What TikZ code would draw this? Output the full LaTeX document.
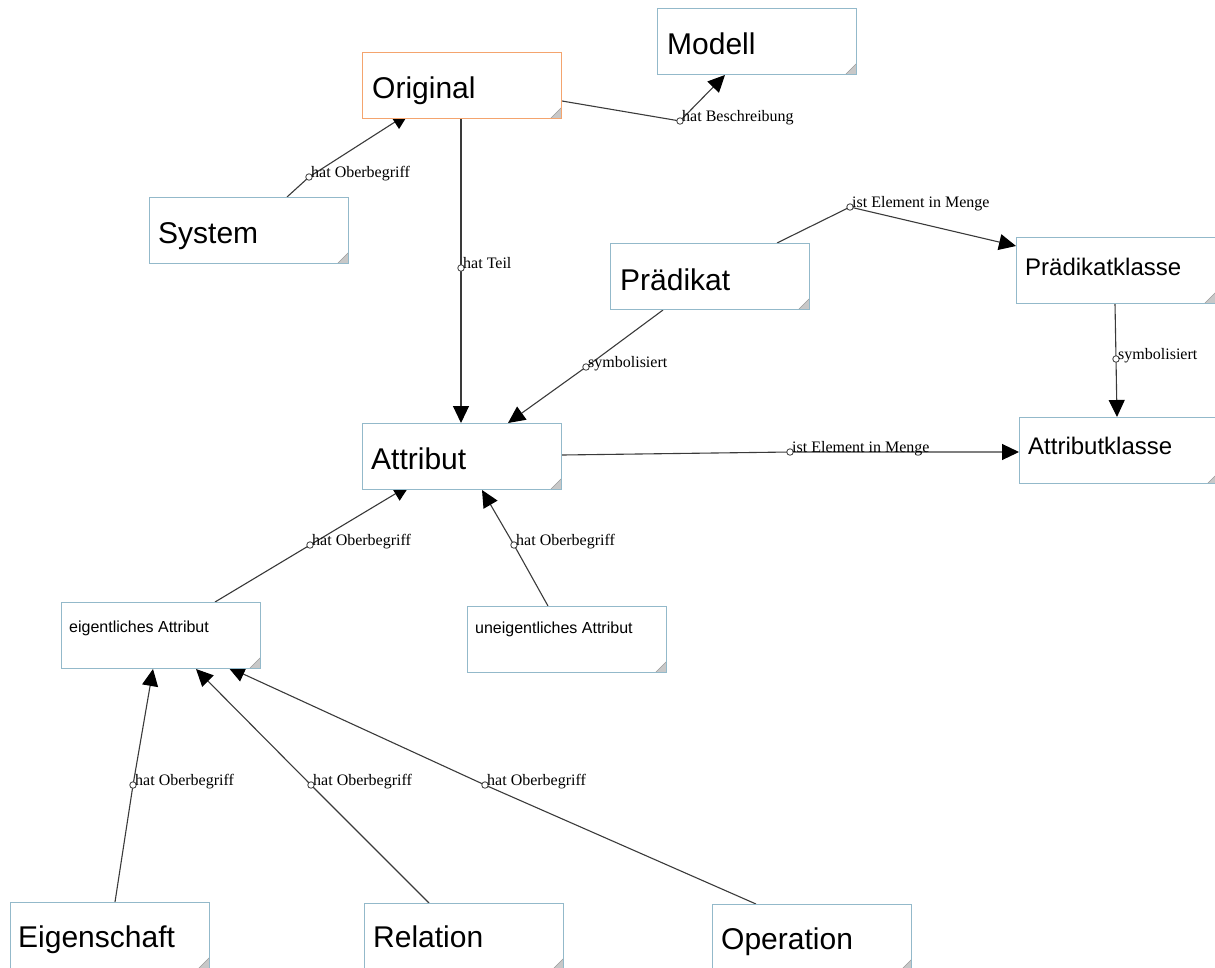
\documentclass[tikz,border=0pt]{standalone}
\usepackage{fontspec}
\setmainfont{Liberation Serif}
\newfontfamily\boxfont{Liberation Sans}
\usetikzlibrary{arrows.meta}
\pgfdeclarelayer{edges}
\pgfsetlayers{edges,main}

\definecolor{boxline}{HTML}{93B9CA}
\definecolor{origline}{HTML}{F4A46E}
\definecolor{edgeline}{HTML}{3A3A3A}
\definecolor{cornerfill}{HTML}{C8C8C8}
\definecolor{cornerline}{HTML}{9A9A9A}

\tikzset{
  concept/.style={draw=boxline, fill=white, line width=1pt, rectangle,
    minimum width=199pt, minimum height=66pt, inner sep=0pt, anchor=north west,
    path picture={
      \filldraw[fill=cornerfill, draw=cornerline, line width=0.6pt]
        (path picture bounding box.south east) -- ++(-11pt,0pt) -- ++(11pt,11pt) -- cycle;
    }},
  original/.style={concept, draw=origline},
  bigtext/.style={anchor=base west, inner sep=0pt, font=\boxfont\fontsize{30}{36}\selectfont},
  midtext/.style={anchor=base west, inner sep=0pt, font=\boxfont\fontsize{24}{29}\selectfont},
  smalltext/.style={anchor=base west, inner sep=0pt, font=\boxfont\fontsize{16}{19}\selectfont},
  dot/.style={circle, draw=edgeline, fill=white, line width=0.8pt, minimum size=6.5pt, inner sep=0pt},
  rel/.style={anchor=base west, inner sep=0pt, font=\fontsize{16}{19}\selectfont},
  edge/.style={draw=edgeline, line width=1.1pt, -{Triangle[length=17pt, width=16pt, color=black]}},
}

\begin{document}
\begin{tikzpicture}[x=1pt, y=-1pt]
\useasboundingbox (0,0) rectangle (1215,967);
\clip (0,0) rectangle (1215,967);

% concept boxes
\node[original] (orig)    at (362,52)   {};
\node[concept]  (modell)  at (657,8)    {};
\node[concept]  (sys)     at (149,197)  {};
\node[concept]  (praed)   at (610,243)  {};
\node[concept]  (praedkl) at (1016,237) {};
\node[concept]  (attr)    at (362,423)  {};
\node[concept]  (attrkl)  at (1019,417) {};
\node[concept]  (eig)     at (61,602)   {};
\node[concept]  (uneig)   at (467,606)  {};
\node[concept]  (eigsch)  at (10,902)   {};
\node[concept]  (relat)   at (364,903)  {};
\node[concept]  (oper)    at (712,904)  {};

% box captions
\node[bigtext]   (t-orig)    at ([shift={(10pt,-46pt)}]orig.north west)    {Original};
\node[bigtext]   (t-modell)  at ([shift={(10pt,-46pt)}]modell.north west)  {Modell};
\node[bigtext]   (t-sys)     at ([shift={(9pt,-46pt)}]sys.north west)      {System};
\node[bigtext]   (t-praed)   at ([shift={(10pt,-47pt)}]praed.north west)   {Prädikat};
\node[midtext]   (t-praedkl) at ([shift={(9pt,-38pt)}]praedkl.north west) {Prädikatklasse};
\node[bigtext]   (t-attr)    at ([shift={(9pt,-46pt)}]attr.north west)     {Attribut};
\node[midtext]   (t-attrkl)  at ([shift={(9pt,-37pt)}]attrkl.north west)  {Attributklasse};
\node[smalltext] (t-eig)     at ([shift={(8pt,-30pt)}]eig.north west)      {eigentliches Attribut};
\node[smalltext] (t-uneig)   at ([shift={(8pt,-27pt)}]uneig.north west)    {uneigentliches Attribut};
\node[bigtext]   (t-eigsch)  at ([shift={(8pt,-45pt)}]eigsch.north west)   {Eigenschaft};
\node[bigtext]   (t-relat)   at ([shift={(9pt,-44pt)}]relat.north west)    {Relation};
\node[bigtext]   (t-oper)    at ([shift={(9pt,-45pt)}]oper.north west)     {Operation};

% relation points
\node[dot] (d1)  at (309,177) {};
\node[dot] (d2)  at (680,121) {};
\node[dot] (d3)  at (461,268) {};
\node[dot] (d4)  at (850,207) {};
\node[dot] (d5)  at (586,367) {};
\node[dot] (d6)  at (1116,359) {};
\node[dot] (d7)  at (790,452) {};
\node[dot] (d8)  at (310,545) {};
\node[dot] (d9)  at (514,545) {};
\node[dot] (d10) at (133,785) {};
\node[dot] (d11) at (311,785) {};
\node[dot] (d12) at (485,785) {};

% relation names
\node[rel] (l1)  at ([xshift=2pt]d1.center)  {hat Oberbegriff};
\node[rel] (l2)  at ([xshift=2pt]d2.center)  {hat Beschreibung};
\node[rel] (l3)  at ([xshift=2pt]d3.center)  {hat Teil};
\node[rel] (l4)  at ([xshift=2pt]d4.center)  {ist Element in Menge};
\node[rel] (l5)  at ([xshift=2pt]d5.center)  {symbolisiert};
\node[rel] (l6)  at ([xshift=2pt]d6.center)  {symbolisiert};
\node[rel] (l7)  at ([xshift=2pt]d7.center)  {ist Element in Menge};
\node[rel] (l8)  at ([xshift=2pt]d8.center)  {hat Oberbegriff};
\node[rel] (l9)  at ([xshift=2pt]d9.center)  {hat Oberbegriff};
\node[rel] (l10) at ([xshift=2pt]d10.center) {hat Oberbegriff};
\node[rel] (l11) at ([xshift=2pt]d11.center) {hat Oberbegriff};
\node[rel] (l12) at ([xshift=2pt]d12.center) {hat Oberbegriff};

% connectors, kept beneath the boxes
\begin{pgfonlayer}{edges}
\draw[edge] ([xshift=138pt]sys.north west) -- (d1.center) -- ([shift={(47pt,6pt)}]orig.south west);
\draw[edge] ([yshift=-49pt]orig.north east) -- (d2.center) -- ([xshift=68pt]modell.south west);
\draw[edge] ([xshift=99pt]orig.south west) -- (d3.center) -- ([xshift=99pt]attr.north west);
\draw[edge] ([xshift=167pt]praed.north west) -- (d4.center) -- ([yshift=-9pt]praedkl.north west);
\draw[edge] ([xshift=53pt]praed.south west) -- (d5.center) -- ([xshift=146pt]attr.north west);
\draw[edge] ([xshift=99pt]praedkl.south west) -- (d6.center) -- ([xshift=98pt]attrkl.north west);
\draw[edge] ([yshift=-32pt]attr.north east) -- (d7.center) -- ([yshift=-35pt]attrkl.north west);
\draw[edge] ([xshift=154pt]eig.north west) -- (d8.center) -- ([shift={(48pt,5pt)}]attr.south west);
\draw[edge] ([xshift=81pt]uneig.north west) -- (d9.center) -- ([xshift=120pt]attr.south west);
\draw[edge] ([xshift=105pt]eigsch.north west) -- (d10.center) -- ([xshift=92pt]eig.south west);
\draw[edge] ([xshift=65pt]relat.north west) -- (d11.center) -- ([xshift=135pt]eig.south west);
\draw[edge] ([xshift=44pt]oper.north west) -- (d12.center) -- ([shift={(167pt,2pt)}]eig.south west);
\end{pgfonlayer}
\end{tikzpicture}
\end{document}
